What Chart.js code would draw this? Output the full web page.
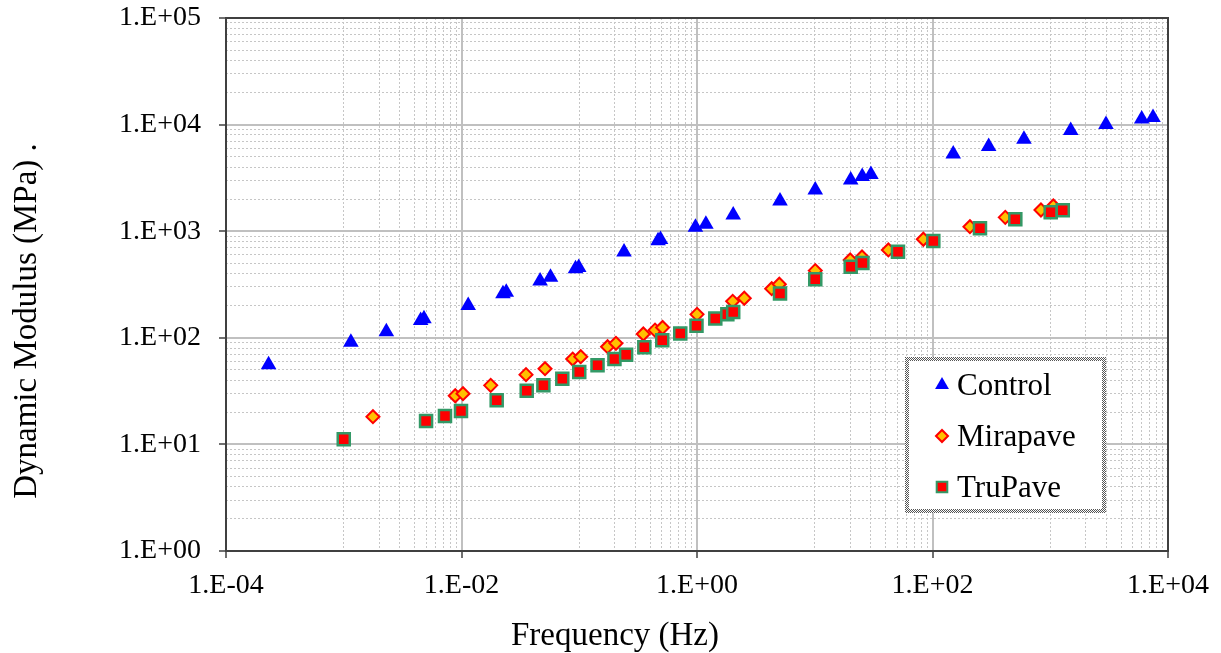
<!DOCTYPE html>
<html>
<head>
<meta charset="utf-8">
<title>Dynamic Modulus vs Frequency</title>
<script src="https://cdn.jsdelivr.net/npm/chart.js@4.4.1/dist/chart.umd.min.js"></script>
<style>
  html, body { margin: 0; padding: 0; background: #fff; }
  #wrap { position: relative; width: 1221px; height: 653px; }
</style>
</head>
<body>
<div id="wrap"><canvas id="modulusChart" width="1221" height="653"></canvas></div>
<script>
"use strict";

/* data (frequency in Hz, modulus in MPa) */
var controlFreq = [2.3e-4, 1.15e-3, 2.3e-3, 4.5e-3, 4.8e-3, 1.14e-2, 2.25e-2, 2.4e-2, 4.65e-2, 5.7e-2,
    9.3e-2, 0.099, 0.24, 0.467, 0.49, 0.97, 1.19, 2.03, 5.07, 10.1, 20.2, 25.3, 30, 150, 300, 598,
    1492, 2973, 5980, 7460];
var controlModulus = [56, 91, 114, 145, 151, 201, 259, 268, 341, 370,
    445, 456, 638, 813, 836, 1089, 1161, 1421, 1923, 2438, 3025, 3258, 3400, 5306, 6220, 7290,
    8790, 10000, 11300, 11640];

var mirapaveFreq = [1.77e-3, 8.85e-3, 1.03e-2, 1.77e-2, 3.53e-2, 5.12e-2, 8.8e-2, 0.103, 0.174, 0.205,
    0.35, 0.44, 0.51, 1.0, 2.01, 2.52, 4.31, 5.0, 10.1, 20.0, 25.2, 42.2, 83.6, 208, 415, 834, 1062];
var mirapaveModulus = [18.2, 28.6, 29.9, 35.8, 45.1, 51.3, 63.2, 66.5, 82.5, 88.8,
    108.6, 118, 125, 166, 220, 235, 289, 318, 427, 537, 573, 667, 840, 1102, 1349, 1581, 1723];

var trupaveFreq = [1.0e-3, 5.0e-3, 7.24e-3, 9.9e-3, 1.99e-2, 3.58e-2, 4.96e-2, 7.18e-2, 0.1, 0.143,
    0.199, 0.25, 0.357, 0.507, 0.721, 0.99, 1.43, 1.81, 2.03, 5.07, 10.1, 20.2, 25.4, 50.9, 101.6,
    253, 505, 1009, 1277];
var trupaveModulus = [11.2, 16.6, 18.5, 20.6, 25.9, 31.9, 35.8, 41.3, 47.7, 55.2,
    63.2, 69.4, 81.4, 94.8, 110, 130, 152, 166, 175, 261, 354, 464, 503, 643, 809,
    1065, 1294, 1504, 1570];

var seriesNames = ['Control', 'Mirapave', 'TruPave'];

var xMajorTicks = [1e-4, 1e-2, 1, 1e2, 1e4];
var xTickLabels = ['1.E-04', '1.E-02', '1.E+00', '1.E+02', '1.E+04'];
var yMajorTicks = [1, 10, 100, 1000, 10000, 100000];
var yTickLabels = ['1.E+00', '1.E+01', '1.E+02', '1.E+03', '1.E+04', '1.E+05'];

var xTitle = 'Frequency (Hz)';
var yTitle = 'Dynamic Modulus (MPa) .';

/* minor gridlines: x every k*10^n inside each two-decade step, y every k*10^n */
var xMinorTicks = [];
[1e-3, 1e-1, 1e1, 1e3].forEach(function (base) {
    for (var k = 1; k <= 9; k++) xMinorTicks.push(k * base);
});
var yMinorTicks = [];
[1, 10, 100, 1000, 10000].forEach(function (base) {
    for (var k = 2; k <= 9; k++) yMinorTicks.push(k * base);
});

var FONT = '"Liberation Serif", "Times New Roman", serif';

function toPoints(xs, ys) {
    return xs.map(function (x, i) { return { x: x, y: ys[i] }; });
}

function setTicks(list) {
    return function (scale) {
        scale.ticks = list.map(function (v) { return { value: v }; });
    };
}

function drawMarker(ctx, style, x, y, r, fill, stroke, bw) {
    ctx.beginPath();
    if (style === 'triangle') {
        ctx.moveTo(x, y - r);
        ctx.lineTo(x + r * 0.866, y + r * 0.5);
        ctx.lineTo(x - r * 0.866, y + r * 0.5);
    } else if (style === 'rectRot') {
        ctx.moveTo(x - r, y);
        ctx.lineTo(x, y - r);
        ctx.lineTo(x + r, y);
        ctx.lineTo(x, y + r);
    } else {
        var s = r * Math.SQRT1_2;
        ctx.rect(x - s, y - s, 2 * s, 2 * s);
    }
    ctx.closePath();
    ctx.fillStyle = fill;
    ctx.fill();
    if (bw) {
        ctx.lineWidth = bw;
        ctx.strokeStyle = stroke;
        ctx.stroke();
    }
}

/* plot frame drawn over the gridlines */
var framePlugin = {
    id: 'frame',
    beforeDatasetsDraw: function (chart) {
        var ca = chart.chartArea, ctx = chart.ctx;
        ctx.save();
        ctx.strokeStyle = '#404040';
        ctx.lineWidth = 2;
        ctx.strokeRect(ca.left, ca.top, ca.right - ca.left, ca.bottom - ca.top);
        ctx.restore();
    }
};

/* axis titles, placed where the original has them */
var titlePlugin = {
    id: 'axisTitles',
    afterDraw: function (chart) {
        var ca = chart.chartArea, ctx = chart.ctx;
        ctx.save();
        ctx.fillStyle = '#000';
        ctx.font = '33px ' + FONT;
        ctx.textAlign = 'center';
        ctx.textBaseline = 'alphabetic';
        ctx.fillText(xTitle, ca.left + 389, ca.bottom + 94);
        ctx.translate(ca.left - 199, ca.top + 303);
        ctx.rotate(-Math.PI / 2);
        ctx.textBaseline = 'middle';
        ctx.fillText(yTitle, 0, 0);
        ctx.restore();
    }
};

/* boxed legend inside the plot, with a checkered frame */
var legendPlugin = {
    id: 'boxLegend',
    afterDraw: function (chart) {
        var ca = chart.chartArea, ctx = chart.ctx;
        var bx = ca.right - 263, by = ca.top + 339, bw = 201, bh = 156, edge = 4;
        var tile = document.createElement('canvas');
        tile.width = 2; tile.height = 2;
        var tc = tile.getContext('2d');
        tc.fillStyle = '#ffffff'; tc.fillRect(0, 0, 2, 2);
        tc.fillStyle = '#555555'; tc.fillRect(0, 0, 1, 1); tc.fillRect(1, 1, 1, 1);
        ctx.save();
        ctx.fillStyle = ctx.createPattern(tile, 'repeat');
        ctx.fillRect(bx, by, bw, bh);
        ctx.fillStyle = '#ffffff';
        ctx.fillRect(bx + edge, by + edge, bw - 2 * edge, bh - 2 * edge);

        var sizes = [8, 6, 7.5];
        ctx.font = '31px ' + FONT;
        ctx.textAlign = 'left';
        ctx.textBaseline = 'alphabetic';
        chart.data.datasets.forEach(function (ds, i) {
            var cy = by + 28 + i * 51;
            drawMarker(ctx, ds.pointStyle, bx + 37, cy, sizes[i], ds.backgroundColor, ds.borderColor, ds.borderWidth ? 2 : 0);
            ctx.fillStyle = '#000';
            ctx.fillText(ds.label, bx + 52, cy + 10);
        });
        ctx.restore();
    }
};

var tickFont = { family: FONT, size: 28 };

var ctx = document.getElementById('modulusChart').getContext('2d');

var modulusConfig = {
    type: 'scatter',
    data: {
        datasets: [{
            label: seriesNames[0],
            data: toPoints(controlFreq, controlModulus),
            pointStyle: 'triangle',
            pointRadius: 9,
            backgroundColor: '#0000ff',
            borderColor: '#0000ff',
            borderWidth: 0,
            order: 2
        },
        {
            label: seriesNames[1],
            data: toPoints(mirapaveFreq, mirapaveModulus),
            pointStyle: 'rectRot',
            pointRadius: 6.5,
            backgroundColor: '#ffc000',
            borderColor: '#ff0000',
            borderWidth: 2,
            order: 1
        },
        {
            label: seriesNames[2],
            data: toPoints(trupaveFreq, trupaveModulus),
            pointStyle: 'rect',
            pointRadius: 8.5,
            backgroundColor: '#ff0000',
            borderColor: '#339966',
            borderWidth: 2.5,
            order: 0
        }]
    },
    options: {
        responsive: false,
        animation: false,
        events: [],
        layout: { padding: { top: 18, right: 53, left: 0, bottom: 0 } },
        plugins: {
            legend: { display: false },
            tooltip: { enabled: false }
        },
        scales: {
            x2: {
                type: 'logarithmic',
                position: 'bottom',
                min: 1e-4,
                max: 1e4,
                afterBuildTicks: setTicks(xMinorTicks),
                ticks: { display: false, autoSkip: false },
                grid: { color: '#c6c6c6', lineWidth: 1, drawTicks: false },
                border: { display: false, dash: [2, 2] }
            },
            y2: {
                type: 'logarithmic',
                position: 'left',
                min: 1,
                max: 1e5,
                afterBuildTicks: setTicks(yMinorTicks),
                ticks: { display: false, autoSkip: false },
                grid: { color: '#c6c6c6', lineWidth: 1, drawTicks: false },
                border: { display: false, dash: [2, 2] }
            },
            x: {
                type: 'logarithmic',
                position: 'bottom',
                min: 1e-4,
                max: 1e4,
                afterBuildTicks: setTicks(xMajorTicks),
                afterFit: function (scale) { scale.height = 102; },
                ticks: {
                    autoSkip: false,
                    maxRotation: 0,
                    padding: 11,
                    color: '#000',
                    font: tickFont,
                    callback: function (value) {
                        var i = xMajorTicks.indexOf(value);
                        return i >= 0 ? xTickLabels[i] : '';
                    }
                },
                grid: { color: '#c0c0c0', lineWidth: 2, tickColor: '#404040', tickLength: 7, tickWidth: 1.5 },
                border: { display: false }
            },
            y: {
                type: 'logarithmic',
                position: 'left',
                min: 1,
                max: 1e5,
                afterBuildTicks: setTicks(yMajorTicks),
                afterFit: function (scale) {
                    scale.width = 226;
                    scale.paddingTop = 0;
                    scale.paddingBottom = 0;
                },
                ticks: {
                    autoSkip: false,
                    padding: 18,
                    color: '#000',
                    font: tickFont,
                    callback: function (value) {
                        var i = yMajorTicks.indexOf(value);
                        return i >= 0 ? yTickLabels[i] : '';
                    }
                },
                grid: { color: '#c0c0c0', lineWidth: 2, tickColor: '#404040', tickLength: 7, tickWidth: 1.5 },
                border: { display: false }
            }
        }
    },
    plugins: [framePlugin, titlePlugin, legendPlugin]
};

var modulusChart = new Chart(ctx, modulusConfig);
</script>
</body>
</html>
